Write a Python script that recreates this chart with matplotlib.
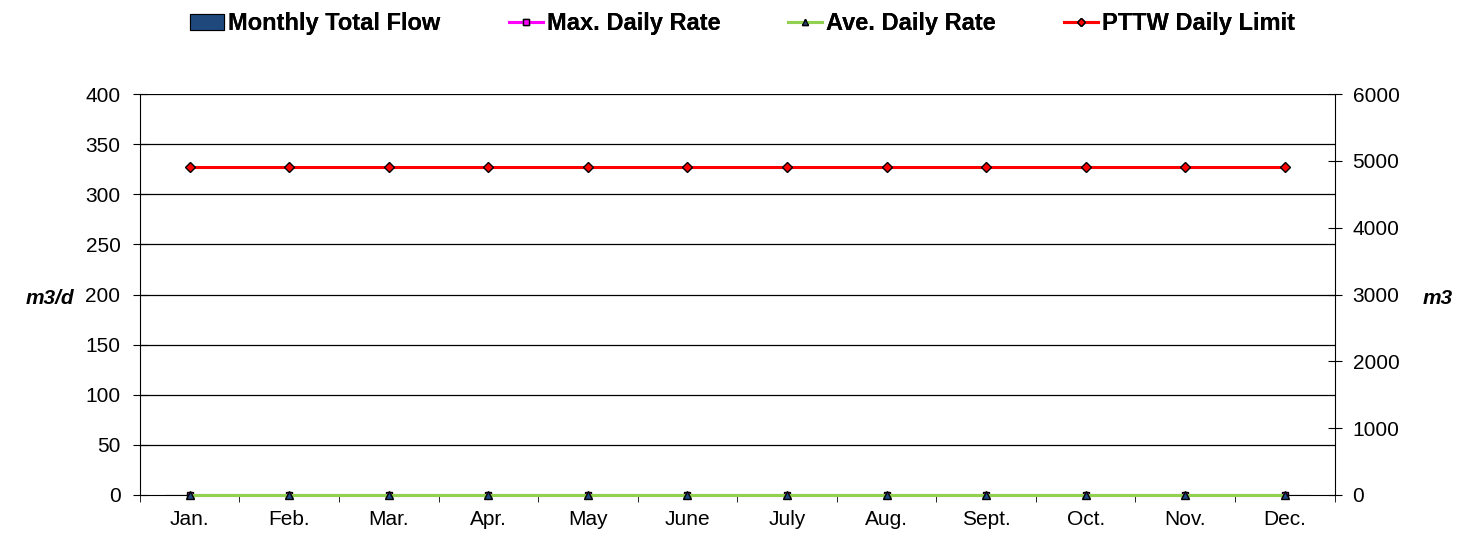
import matplotlib
matplotlib.use("Agg")
import matplotlib.pyplot as plt
import numpy as np

plt.rcParams['font.family'] = ['Liberation Sans', 'DejaVu Sans']

months = ["Jan.", "Feb.", "Mar.", "Apr.", "May", "June", "July", "Aug.", "Sept.", "Oct.", "Nov.", "Dec."]
total_flow = [0, 0, 0, 0, 0, 0, 0, 0, 0, 0, 0, 0]      # m3, right axis
max_rate = [0, 0, 0, 0, 0, 0, 0, 0, 0, 0, 0, 0]        # m3/d
ave_rate = [0, 0, 0, 0, 0, 0, 0, 0, 0, 0, 0, 0]        # m3/d
pttw_limit = [327, 327, 327, 327, 327, 327, 327, 327, 327, 327, 327, 327]

x = np.arange(len(months))

fig = plt.figure(figsize=(14.73, 5.36), dpi=100)
ax = fig.add_axes([0.095, 0.0765, 0.811, 0.748])
ax2 = ax.twinx()

# bars on the secondary axis (behind the lines)
bars = ax2.bar(x, total_flow, width=0.5, color="#1f497d", edgecolor="black", linewidth=0.8,
               label="Monthly Total Flow")
ax2.set_ylim(0, 6000)
ax2.set_yticks(np.arange(0, 6001, 1000))
ax.set_zorder(ax2.get_zorder() + 1)
ax.patch.set_visible(False)

for yv in np.arange(50, 401, 50):
    ax.axhline(yv, color="black", linewidth=0.9, zorder=0)

l_max, = ax.plot(x, max_rate, color="magenta", linewidth=2.2, marker="s", markersize=5,
                 markerfacecolor="magenta", markeredgecolor="black", label="Max. Daily Rate",
                 clip_on=False, zorder=3)
l_ave, = ax.plot(x, ave_rate, color="#92d050", linewidth=2.2, marker="^", markersize=6,
                 markerfacecolor="#1f497d", markeredgecolor="black", label="Ave. Daily Rate",
                 clip_on=False, zorder=4)
l_lim, = ax.plot(x, pttw_limit, color="red", linewidth=2.2, marker="D", markersize=5.5,
                 markerfacecolor="red", markeredgecolor="black", label="PTTW Daily Limit",
                 clip_on=False, zorder=5)

ax.set_xlim(-0.5, 11.5)
ax.set_ylim(0, 400)
ax.set_yticks(np.arange(0, 401, 50))
ax.set_xticks(x)
ax.set_xticklabels(months)
ax.set_xticks(np.arange(-0.5, 12, 1), minor=True)
ax.tick_params(axis="x", which="major", length=0, pad=11, labelsize=15)
ax.tick_params(axis="x", which="minor", length=5, direction="out")
ax.tick_params(axis="y", length=10, direction="inout", labelsize=15, pad=9)
ax2.tick_params(axis="y", length=10, direction="inout", labelsize=15, pad=8)

for a in (ax, ax2):
    a.spines["top"].set_visible(False)
ax.spines["right"].set_visible(False)
ax2.spines["left"].set_visible(False)
ax2.spines["bottom"].set_visible(False)

fig.text(0.034, 0.444, "m3/d", fontsize=15, fontweight="bold", fontstyle="italic",
         ha="center", va="center")
fig.text(0.976, 0.444, "m3", fontsize=15, fontweight="bold", fontstyle="italic",
         ha="center", va="center")

# legend entries placed one by one across the top
entries = [(bars, "Monthly Total Flow", 190),
           (l_max, "Max. Daily Rate", 509),
           (l_ave, "Ave. Daily Rate", 788),
           (l_lim, "PTTW Daily Limit", 1064)]
for h, lab, px in entries:
    leg = fig.legend([h], [lab], loc="center left", bbox_to_anchor=(px / 1473, 0.956),
                     frameon=False, prop={"weight": "bold", "size": 17}, handlelength=1.45,
                     handletextpad=0.17, borderpad=0, borderaxespad=0, markerscale=0.8)
    fig.add_artist(leg)

plt.savefig("out.png", dpi=100)
